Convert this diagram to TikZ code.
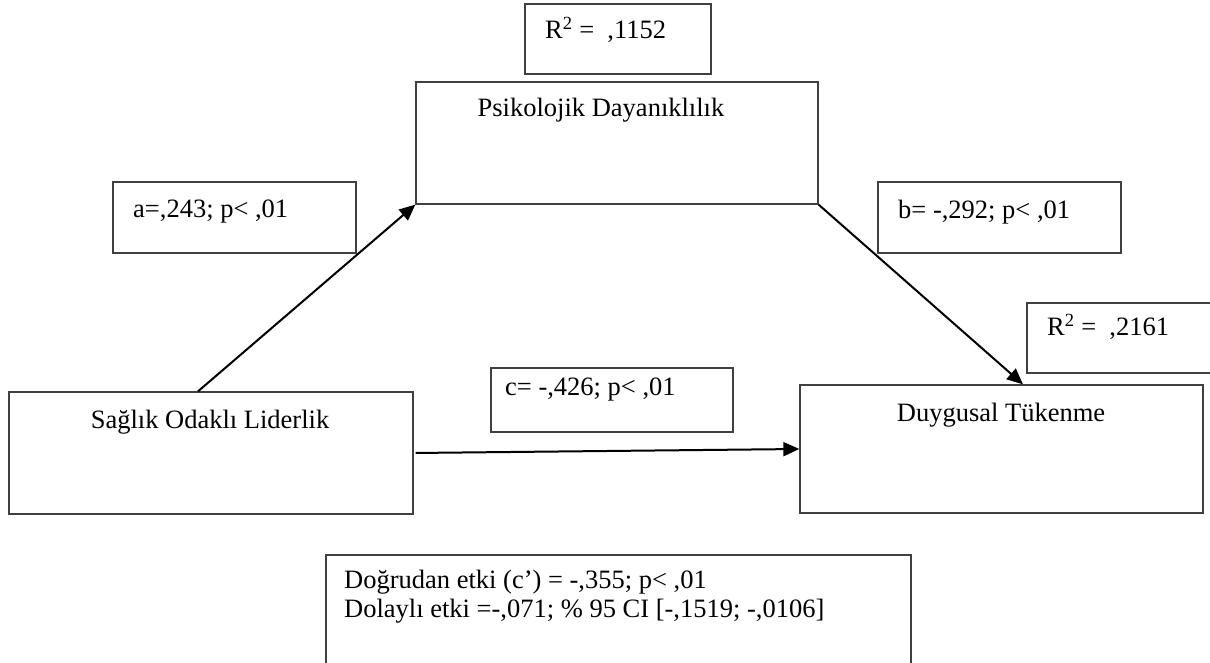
\documentclass[tikz,border=0pt]{standalone}
\usepackage{fontspec}
\setmainfont{Liberation Serif}
\usetikzlibrary{arrows.meta,positioning,calc}
\definecolor{kenar}{rgb}{0.25,0.25,0.25}
\tikzset{
  kutu/.style={draw=kenar, line width=1.3pt, rectangle, inner sep=0pt},
  yazi/.style={inner sep=0pt, font=\fontsize{26.5}{29}\selectfont},
  ok/.style={line width=2pt, -{Triangle[length=16pt,width=14pt]}}
}
\begin{document}
\begin{tikzpicture}[x=1pt,y=-1pt]
            \useasboundingbox (0,0) rectangle (1210,663);
            % 
            \node[kutu, minimum width=186pt, minimum height=70pt] (r2a) at (618,39) {};
            \node[kutu, minimum width=402pt, minimum height=122pt] (psi) at (617,143) {};
            \node[kutu, minimum width=243pt, minimum height=71pt] (abox) at (234.5,217.5) {};
            \node[kutu, minimum width=243pt, minimum height=71pt] (bbox) at (999.5,217.5) {};
            \node[kutu, minimum width=188pt, minimum height=70pt] (r2b) at (1121,338) {};
            \node[kutu, minimum width=404pt, minimum height=122pt] (sag) at (211,453) {};
            \node[kutu, minimum width=242pt, minimum height=64pt] (cbox) at (612,400) {};
            \node[kutu, minimum width=403pt, minimum height=128pt] (duy) at (1001.5,449) {};
            \node[kutu, minimum width=585pt, minimum height=125pt] (alt) at (618.5,617.5) {};
            
            % 
            \node[yazi, anchor=west] (r2atxt) at (545,30) {R\textsuperscript{2} =\ \ ,1152};
            \node[yazi] (psitxt) at (601,110) {Psikolojik Dayanıklılık};
            \node[yazi, anchor=west] (atxt) at (133,212) {a=,243; p< ,01};
            \node[yazi, anchor=west] (btxt) at (898,212) {b= -,292; p< ,01};
            \node[yazi, anchor=west] (r2btxt) at (1047,327) {R\textsuperscript{2} =\ \ ,2161};
            \node[yazi] (sagtxt) at (210,422) {Sağlık Odaklı Liderlik};
            \node[yazi, anchor=west] (ctxt) at (505,390) {c= -,426; p< ,01};
            \node[yazi] (duytxt) at (1001,415) {Duygusal Tükenme};
            \node[yazi, anchor=west, align=left] (alttxt) at (344,597) {Doğrudan etki (c’) = -,355; p< ,01\\Dolaylı etki =-,071; \% 95 CI [-,1519; -,0106]};
            
            % Paths
            \draw[ok] ([xshift=-13pt]sag.north) -- (psi.south west);
            \draw[ok] (psi.south east) -- ([xshift=21.5pt]duy.north);
            \draw[ok, shorten <=2pt] (sag.east) -- (duy.west);

\end{tikzpicture}
\end{document}
